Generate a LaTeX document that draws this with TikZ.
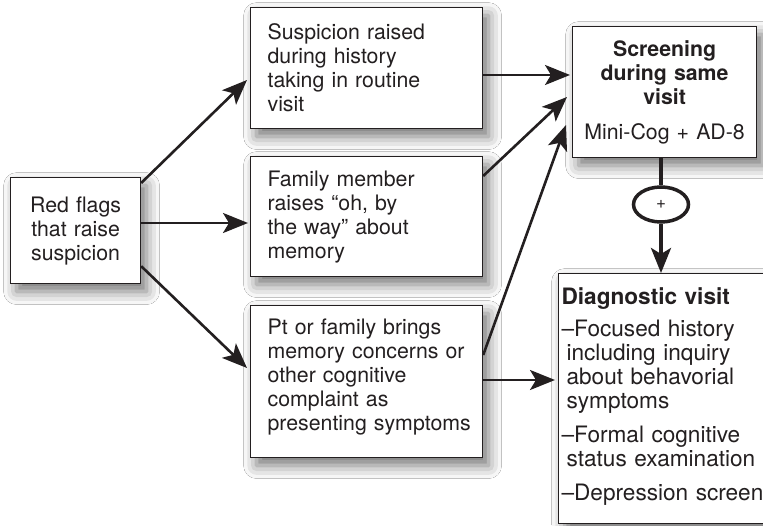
\documentclass[tikz,border=0pt]{standalone}
\usepackage{fontspec}
\setmainfont{TeX Gyre Heros}
\usetikzlibrary{arrows.meta,calc,shapes.geometric,shadows.blur}
\definecolor{ink}{HTML}{231F20}
\hyphenpenalty=10000
\tikzset{
  box/.style={draw=ink, text=ink, line width=1.2pt, fill=white, anchor=north west,
    inner ysep=0pt, font=\fontsize{21.3}{24}\selectfont,
    blur shadow={shadow xshift=6pt, shadow yshift=-8pt, shadow blur radius=13pt, shadow opacity=55}},
  arr/.style={draw=ink, line width=2.6pt, -{Stealth[length=25pt,width=20pt,inset=6pt]}},
}
\begin{document}
\begin{tikzpicture}[x=1pt,y=1pt]
\useasboundingbox (0,0) rectangle (763,525);
\clip (0,0) rectangle (763,525);
\fill[white] (0,0) rectangle (763,525);
% boxes
\node[box, minimum width=130pt, minimum height=106pt, inner xsep=10pt, text width=110pt, align=center] (rf) at (10,348)
  {Red flags\\that raise\\suspicion};
\node[box, minimum width=232pt, minimum height=121pt, inner xsep=17pt, text width=198pt, align=left] (susp) at (250,518)
  {Suspicion raised\\during history\\taking in routine\\visit};
\node[box, minimum width=232pt, minimum height=120pt, inner xsep=17pt, text width=198pt, align=left] (fam) at (250,369)
  {Family member\\raises “oh, by\\the way” about\\memory};
\node[box, minimum width=232pt, minimum height=152pt, inner xsep=17pt, text width=198pt, align=left] (pt) at (250,220)
  {Pt or family brings\\memory concerns or\\other cognitive\\complaint as\\\mbox{presenting symptoms}\rule[-14pt]{0pt}{1pt}};
\node[box, minimum width=184pt, minimum height=131pt, inner xsep=8pt, text width=168pt, align=center] (scr) at (572,499)
  {\textbf{Screening}\\\textbf{during same}\\\textbf{visit}\\[11pt]Mini-Cog + AD-8};
\node[box, minimum width=220pt, minimum height=250pt, inner xsep=3pt, text width=214pt, align=left,
  font=\fontsize{22.6}{24}\selectfont] (diag) at (558,252)
  {\textbf{Diagnostic visit}\\[8pt]
   –Focused history\\
   \hspace*{5pt}including inquiry\\
   \hspace*{5pt}about behavorial\\
   \hspace*{5pt}symptoms\\[10pt]
   –Formal cognitive\\
   \hspace*{5pt}status examination\\[10pt]
   –Depression screen\rule[-9pt]{0pt}{1pt}};
\node[draw=ink, text=ink, ellipse, line width=3.5pt, fill=white, minimum width=55pt, minimum height=35pt,
  inner sep=0pt, font=\fontsize{17}{17}\selectfont] (plus) at (661,320.5) {+};
% connectors
\draw[arr] ($(rf.north east)+(0,-6)$) -- ($(susp.north west)+(-3,-73)$);
\draw[arr] ($(rf.north east)+(0,-46)$) -- ($(fam.north west)+(-2,-67)$);
\draw[arr] ($(rf.south east)+(0,18)$) -- ($(pt.north west)+(-3,-63)$);
\draw[arr] ($(susp.north east)+(0,-68)$) -- ($(scr.north west)+(-2,-49)$);
\draw[arr] ($(fam.north east)+(0,-20)$) -- ($(scr.north west)+(-5,-71)$);
\draw[arr] ($(pt.north east)+(0,-50)$) -- ($(scr.north west)+(-6,-99)$);
\draw[arr] ($(pt.north east)+(0,-75)$) -- ($(diag.north west)+(-3,-107)$);
\draw[draw=ink, line width=3.5pt] (plus.north |- scr.south) -- (plus.north);
\draw[arr, line width=3.5pt] (plus.south) -- (plus.south |- diag.north);
\end{tikzpicture}
\end{document}
